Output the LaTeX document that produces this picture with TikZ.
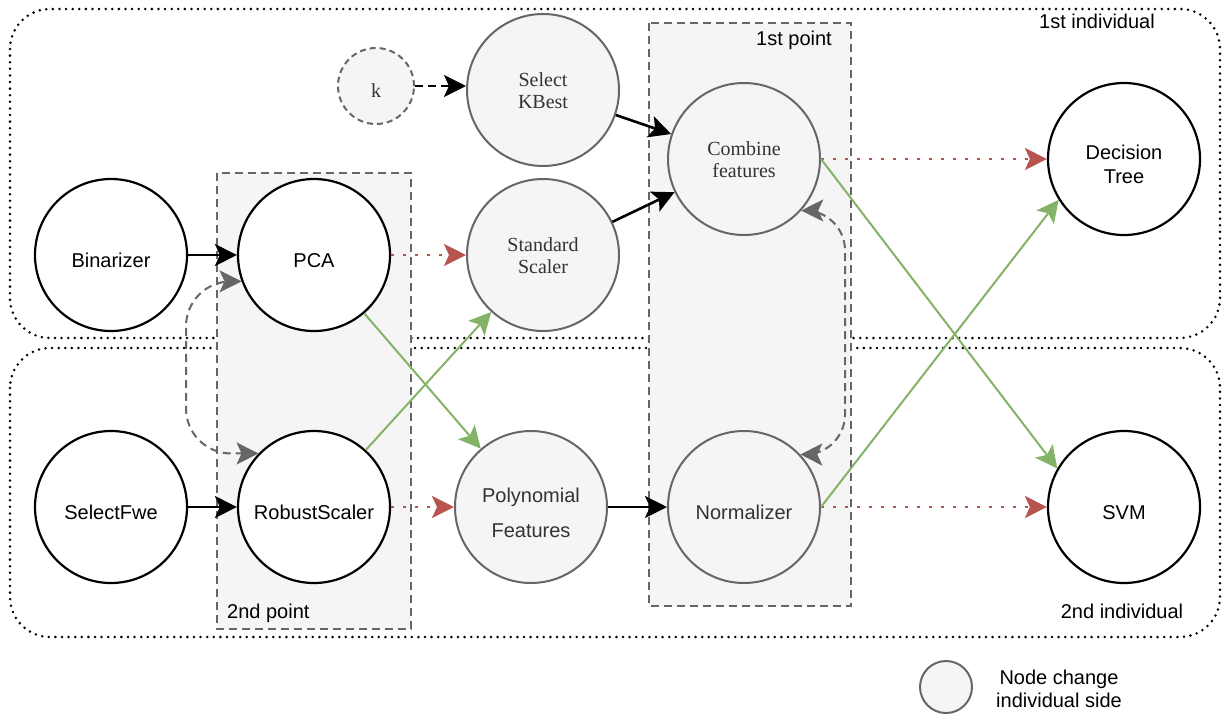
\documentclass[tikz,border=0pt]{standalone}
\usepackage{fontspec}
\setmainfont{Liberation Sans}
\newfontfamily\serifface{Liberation Serif}
\usetikzlibrary{arrows.meta}
\definecolor{grayfill}{HTML}{F5F5F5}
\definecolor{graystroke}{HTML}{666666}
\definecolor{graytext}{HTML}{333333}
\definecolor{greenline}{HTML}{82B366}
\definecolor{redline}{HTML}{B85450}
\newcommand\shiftedtext[2]{\raisebox{#1}[\height][\depth]{\begin{tabular}{@{}c@{}}#2\end{tabular}}}
\newcommand\mysans[1]{\shiftedtext{-7.8pt}{#1}}
\newcommand\myserif[1]{\shiftedtext{-3.2pt}{#1}}
\tikzset{
  basenode/.style={circle, minimum size=152pt, inner sep=0pt, align=center, font=\fontsize{20}{24}\selectfont},
  blacknode/.style={basenode, draw=black, line width=2.2pt, fill=white, text=black},
  graynode/.style={basenode, draw=graystroke, line width=2pt, fill=grayfill, text=graytext},
  serifnode/.style={graynode, font=\serifface\fontsize{20}{22}\selectfont},
  tiphead/.tip={Stealth[length=22pt,width=22pt,inset=5pt]},
  blackarrow/.style={-tiphead, line width=2.6pt, draw=black},
  greenarrow/.style={-tiphead, line width=2pt, draw=greenline},
  redarrow/.style={-tiphead, line width=2.6pt, draw=redline, dash pattern=on 2.6pt off 9.4pt},
  grayarrow/.style={tiphead-tiphead, line width=2pt, draw=graystroke, dash pattern=on 8pt off 5pt},
  indivbox/.style={draw=black, line width=2.8pt, line cap=round, dash pattern=on 0pt off 6.6pt, rounded corners=40pt},
  pointbox/.style={draw=graystroke, fill=grayfill, line width=2pt, dash pattern=on 8pt off 5pt},
  plainlabel/.style={font=\fontsize{20}{23}\selectfont, text=black, inner sep=0pt}
}
\begin{document}
\begin{tikzpicture}[x=1pt, y=-1pt]
\useasboundingbox (0,0) rectangle (1222,715);
% individual boxes
\draw[indivbox] (10,9) rectangle (1220,338);
\draw[indivbox] (10,348) rectangle (1220,637);
% point boxes
\draw[pointbox] (217,173) rectangle (411,629);
\draw[pointbox] (649,23) rectangle (851,606);
% labels
\node[plainlabel] (ind1) at (1097,21) {1st individual};
\node[plainlabel] (ind2) at (1122,611) {2nd individual};
\node[plainlabel, anchor=east] (pt1) at (832,40) {1st point};
\node[plainlabel, anchor=west] (pt2) at (227,613) {2nd point};
% nodes
\node[blacknode] (bin) at (111,255) {\mysans{Binarizer}};
\node[blacknode] (pca) at (314,255) {\mysans{PCA}};
\node[blacknode] (sfwe) at (111,507) {\mysans{SelectFwe}};
\node[blacknode] (rs) at (314,507) {\mysans{RobustScaler}};
\node[graynode] (poly) at (531,507) {\mysans{Polynomial\\[11pt]Features}};
\node[serifnode] (ss) at (543,255) {\myserif{Standard\\Scaler}};
\node[serifnode] (skb) at (543,90) {\myserif{Select\\KBest}};
\node[serifnode, minimum size=76pt, dash pattern=on 6pt off 4pt] (k) at (376,86) {\shiftedtext{-7.4pt}{k}};
\node[serifnode] (cf) at (744,159) {\myserif{Combine\\features}};
\node[graynode] (norm) at (744,507) {\mysans{Normalizer}};
\node[blacknode] (dt) at (1124,159) {\mysans{Decision\\Tree}};
\node[blacknode] (svm) at (1124,507) {\mysans{SVM}};
% legend
\node[graynode, minimum size=52pt, line width=2pt] (leg) at (946,687) {};
\node[plainlabel, align=center] (legtext) at (1059,689) {Node change\\individual side};
% black arrows
\draw[blackarrow] (bin) -- (pca);
\draw[blackarrow] (sfwe) -- (rs);
\draw[blackarrow] (poly) -- (norm);
\draw[blackarrow] (skb) -- (cf);
\draw[blackarrow] (ss) -- (cf);
\draw[blackarrow, dash pattern=on 8pt off 5pt] (k.east) -- (k.east -| skb.west);
% red dotted arrows
\draw[redarrow] (pca) -- (ss);
\draw[redarrow] (rs) -- (poly);
\draw[redarrow] (cf) -- (dt);
\draw[redarrow] (norm) -- (svm);
% green arrows
\draw[greenarrow] (pca) -- (poly);
\draw[greenarrow] (rs) -- (ss);
\draw[greenarrow] (cf.east) -- (svm.150);
\draw[greenarrow] (norm.east) -- (dt.212);
% gray dashed double arrows
\coordinate (gl) at (186,0);
\coordinate (gr) at (845,0);
\draw[grayarrow, rounded corners=45pt] (pca.200) -- (pca.200 -| gl) -- (rs.136 -| gl) -- (rs.136);
\draw[grayarrow, rounded corners=40pt] (cf.-42) -- (cf.-42 -| gr) -- (norm.43 -| gr) -- (norm.43);
\end{tikzpicture}
\end{document}
